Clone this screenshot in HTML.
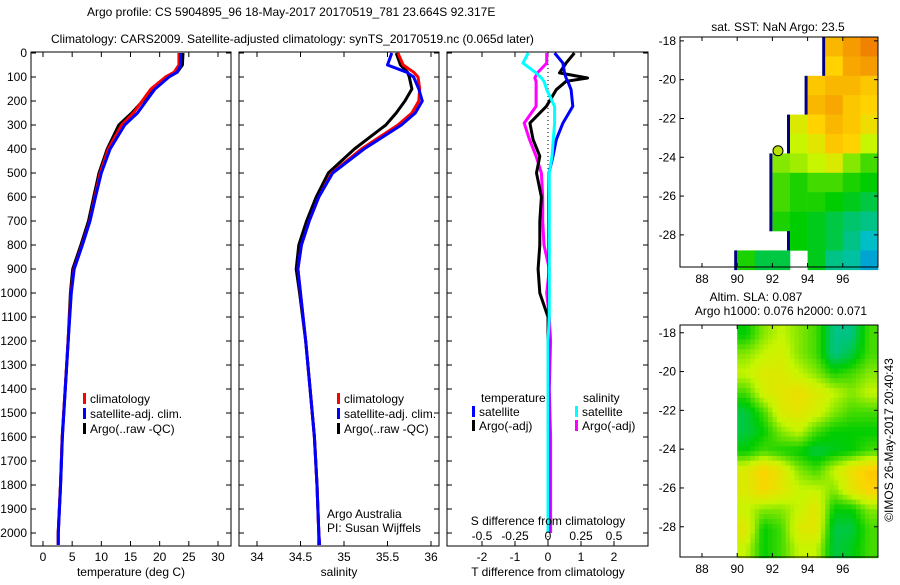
<!DOCTYPE html>
<html><head><meta charset="utf-8"><style>
body{margin:0;background:#fff;}
svg text{font-family:"Liberation Sans",sans-serif;font-size:12px;fill:#000;}
</style></head><body>
<svg id="c" width="900" height="580" viewBox="0 0 900 580" xmlns="http://www.w3.org/2000/svg">
<rect width="900" height="580" fill="#fff"/>
<text x="87" y="16" font-size="13">Argo profile: CS 5904895_96 18-May-2017 20170519_781 23.664S 92.317E</text>
<text x="51" y="43" font-size="13">Climatology: CARS2009. Satellite-adjusted climatology: synTS_20170519.nc (0.065d later)</text>
<g id="g"></g>
</svg>
<script>
// ---- data ----
const depths = [0,50,80,100,150,200,250,300,400,500,600,700,800,900,1000,1200,1400,1600,1800,2000,2050];
const tempClim = [23.3,23.3,22.5,21,18.5,17,15.5,13.5,11.2,9.8,8.9,8,6.7,5.3,4.8,4.3,3.8,3.3,3.0,2.6,2.6];
const tempSat  = [23.6,23.6,23.0,21.6,19.2,17.7,16.2,14.0,11.5,10.0,9.0,8.05,6.75,5.35,4.85,4.32,3.82,3.32,3.02,2.62,2.62];
const tempArgo = [24.0,23.9,23.0,21.3,18.7,17.1,15.2,13.0,11.0,9.6,8.7,7.8,6.5,5.1,4.7,4.3,3.8,3.3,3.0,2.6,2.6];
const salClim = [35.62,35.68,35.8,35.85,35.87,35.86,35.78,35.62,35.2,34.86,34.71,34.6,34.51,34.47,34.5,34.56,34.61,34.66,34.69,34.71,34.72];
const salSat  = [35.55,35.5,35.72,35.8,35.86,35.9,35.82,35.66,35.23,34.87,34.71,34.6,34.51,34.47,34.5,34.56,34.61,34.66,34.69,34.71,34.72];
const salArgo = [35.6,35.65,35.73,35.75,35.78,35.7,35.6,35.48,35.12,34.82,34.68,34.57,34.48,34.45,34.49,34.56,34.61,34.66,34.69,34.71,34.71];
const diffDepths = [0,42,83,104,118,153,222,292,361,430,500,600,700,800,900,1000,1100,1200,1400,1600,1800,2000];
const dTsat  = [0.2,0.45,0.5,0.55,0.6,0.7,0.75,0.45,0.25,0.15,0.03,0.02,0.02,0.02,0.02,0.02,0.02,0.02,0.02,0.02,0.02,0.02];
const dTargo = [0.8,0.55,0.35,1.2,0.55,0.25,-0.05,-0.55,-0.45,-0.25,-0.35,-0.2,-0.25,-0.25,-0.3,-0.25,0,0,0,0,0,0];
const dSsat  = [-0.15,-0.19,-0.09,-0.05,-0.03,-0.01,0.05,0.05,0.04,0.03,0.01,0.01,0.01,0.01,0.01,0.01,0.01,0,0,0,0,0];
const dSargo = [-0.01,-0.01,-0.08,-0.1,-0.09,-0.09,-0.09,-0.18,-0.14,-0.09,-0.05,-0.04,-0.04,-0.03,0.01,-0.01,0.01,0.02,0.01,0.02,0.02,0.02];
const tTicks = [0,5,10,15,20,25,30];
const sTicks = [34,34.5,35,35.5,36];
const dTTicks = [-2,-1,0,1,2];
const dSTicks = [-0.5,-0.25,0,0.25,0.5];
const depthTicks = [0,100,200,300,400,500,600,700,800,900,1000,1100,1200,1300,1400,1500,1600,1700,1800,1900,2000];
const lonTicks = [88,90,92,94,96];
const latTicks = [-18,-20,-22,-24,-26,-28];
const N = null;
const sstGrid = [
[N,N,N,N,N,N,N,N,0.75,0.8,0.85],
[N,N,N,N,N,N,N,N,0.7,0.78,0.8],
[N,N,N,N,N,N,N,0.72,0.75,0.75,0.72],
[N,N,N,N,N,N,N,0.75,0.78,0.72,0.7],
[N,N,N,N,N,N,0.6,0.7,0.75,0.72,0.65],
[N,N,N,N,N,N,0.55,0.62,0.72,0.7,0.55],
[N,N,N,N,N,0.5,0.52,0.55,0.6,0.5,0.45],
[N,N,N,N,N,0.45,0.42,0.45,0.45,0.42,0.4],
[N,N,N,N,N,0.45,0.42,0.42,0.4,0.38,0.35],
[N,N,N,N,N,0.42,0.4,0.38,0.35,0.32,0.3],
[N,N,N,N,N,N,0.4,0.38,0.35,0.3,0.25],
[N,N,N,0.42,0.35,0.35,N,0.38,0.3,0.28,0.2]];
const slaGrid = [
[.4,.5,.55,.5,.45,.3,.3,.45],
[.5,.55,.58,.5,.45,.3,.35,.45],
[.55,.6,.6,.55,.5,.42,.45,.5],
[.45,.58,.62,.65,.6,.55,.5,.55],
[.35,.45,.6,.62,.58,.5,.45,.45],
[.35,.4,.5,.55,.45,.4,.4,.4],
[.4,.45,.42,.4,.35,.38,.4,.45],
[.6,.7,.62,.5,.45,.55,.65,.72],
[.6,.68,.62,.55,.55,.5,.62,.7],
[.55,.5,.5,.55,.62,.4,.4,.5],
[.62,.4,.45,.6,.62,.35,.35,.45],
[.55,.4,.45,.55,.55,.35,.38,.45]];
const argoPos = [92.317,-23.664];

// ---- drawing ----
const g = document.getElementById('g');
const NS='http://www.w3.org/2000/svg';
function el(t,a,p){const e=document.createElementNS(NS,t);for(const k in a)e.setAttribute(k,a[k]);(p||g).appendChild(e);return e;}
function txt(x,y,s,anchor,p){const e=el('text',{x:x,y:y,'text-anchor':anchor||'start'},p);e.textContent=s;return e;}
const yD = d => 53 + d*0.24;
const PT=52, PB=546;
function panel(x0,x1,name){
  const r=el('rect',{x:x0,y:PT,width:x1-x0,height:PB-PT,fill:'none',stroke:'#000','stroke-width':1});
  
  
  depthTicks.forEach(d=>{el('line',{x1:x0,x2:x0+5,y1:yD(d),y2:yD(d),stroke:'#000'});el('line',{x1:x1,x2:x1-5,y1:yD(d),y2:yD(d),stroke:'#000'});});
}
function poly(xs,ys,col,w,name){
  const pts=xs.map((x,i)=>x.toFixed(1)+','+ys[i].toFixed(1)).join(' ');
  const p=el('polyline',{points:pts,fill:'none',stroke:col,'stroke-width':w,'stroke-linejoin':'round'});
  
  
}
// panel 1 temperature
const xT = t => 43 + t*5.833;
panel(31,231,'temperature-panel');
depthTicks.forEach(d=>{const t=txt(27,yD(d)+4,String(d),'end');});
tTicks.forEach(v=>{el('line',{x1:xT(v),x2:xT(v),y1:PB,y2:PB-5,stroke:'#000'});el('line',{x1:xT(v),x2:xT(v),y1:PT,y2:PT+5,stroke:'#000'});txt(xT(v),561,String(v),'middle');});
poly(tempArgo.map(xT),depths.map(yD),'#000',3,'argo-temperature-line');
poly(tempClim.map(xT),depths.map(yD),'#f00',3,'climatology-temperature-line');
poly(tempSat.map(xT),depths.map(yD),'#00f',3,'satellite-temperature-line');
txt(131,576,'temperature (deg C)','middle');
// panel 2 salinity
const xS = s => 257 + (s-34)*87;
panel(239,439,'salinity-panel');
sTicks.forEach(v=>{el('line',{x1:xS(v),x2:xS(v),y1:PB,y2:PB-5,stroke:'#000'});el('line',{x1:xS(v),x2:xS(v),y1:PT,y2:PT+5,stroke:'#000'});txt(xS(v),561,String(v),'middle');});
poly(salArgo.map(xS),depths.map(yD),'#000',3,'argo-salinity-line');
poly(salClim.map(xS),depths.map(yD),'#f00',3,'climatology-salinity-line');
poly(salSat.map(xS),depths.map(yD),'#00f',3,'satellite-salinity-line');
txt(339,576,'salinity','middle');
txt(327,518,'Argo Australia');txt(327,532,'PI: Susan Wijffels');
// legends
function leg(x,y,col,s,name){const r=el('rect',{x:x,y:y-10,width:3,height:11,fill:col});txt(x+7,y,s);}
leg(83,403,'#f00','climatology','legend-climatology');leg(83,418,'#00f','satellite-adj. clim.','legend-satellite');leg(83,433,'#000','Argo(..raw -QC)','legend-argo');
leg(337,403,'#f00','climatology','legend-climatology-2');leg(337,418,'#00f','satellite-adj. clim.','legend-satellite-2');leg(337,433,'#000','Argo(..raw -QC)','legend-argo-2');
// panel 3 differences
const xdT = v => 548 + v*33;
const xdS = v => 548 + v*132;
panel(447,648,'difference-panel');
dTTicks.forEach(v=>{el('line',{x1:xdT(v),x2:xdT(v),y1:PB,y2:PB-5,stroke:'#000'});el('line',{x1:xdT(v),x2:xdT(v),y1:PT,y2:PT+5,stroke:'#000'});txt(xdT(v),561,String(v),'middle');});
el('line',{x1:548,x2:548,y1:PT,y2:PB,stroke:'#000','stroke-dasharray':'1,3'});
poly(dSargo.map(xdS),diffDepths.map(yD),'#f0f',3,'argo-salinity-diff-line');
poly(dTargo.map(xdT),diffDepths.map(yD),'#000',3,'argo-temperature-diff-line');
poly(dTsat.map(xdT),diffDepths.map(yD),'#00f',3,'satellite-temperature-diff-line');
poly(dSsat.map(xdS),diffDepths.map(yD),'#0ff',3,'satellite-salinity-diff-line');
txt(548,525,'S difference from climatology','middle');
dSTicks.forEach(v=>txt(xdS(v),540,String(v),'middle'));
txt(548,576,'T difference from climatology','middle');
txt(481,402,'temperature');txt(583,402,'salinity');
leg(472,416,'#00f','satellite','legend-temp-satellite');leg(472,430,'#000','Argo(-adj)','legend-temp-argo');
leg(575,416,'#0ff','satellite','legend-sal-satellite');leg(575,430,'#f0f','Argo(-adj)','legend-sal-argo');
// colormap
function cmap(v){const st=[[0,[0,60,255]],[0.25,[0,190,200]],[0.4,[0,205,0]],[0.55,[200,245,0]],[0.7,[255,210,0]],[0.85,[240,130,0]],[1,[200,60,0]]];
 v=Math.max(0,Math.min(1,v));
 for(let i=1;i<st.length;i++){if(v<=st[i][0]){const a=st[i-1],b=st[i],f=(v-a[0])/(b[0]-a[0]);return 'rgb('+a[1].map((c,k)=>Math.round(c+(b[1][k]-c)*f)).join(',')+')';}}return 'rgb(200,60,0)';}
function frame(y0,y1,latTop,name){
  const xL=lon=>680+(lon-86.75)*17.6, yL=lat=>y0+(latTop-lat)*19.4;
  const f=el('rect',{x:680,y:y0,width:198,height:y1-y0,fill:'none',stroke:'#000'});
  lonTicks.forEach(l=>{el('line',{x1:xL(l),x2:xL(l),y1:y1,y2:y1-4,stroke:'#000'});el('line',{x1:xL(l),x2:xL(l),y1:y0,y2:y0+4,stroke:'#000'});txt(xL(l),y1+16,String(l),'middle');});
  latTicks.forEach(l=>{el('line',{x1:680,x2:684,y1:yL(l),y2:yL(l),stroke:'#000'});el('line',{x1:878,x2:874,y1:yL(l),y2:yL(l),stroke:'#000'});txt(676,yL(l)+4,String(l),'end');});
  return [xL,yL];
}
// map 1: SST blocks
const m1y0=37, m1lat=-17.8;
const xl1=lon=>680+(lon-86.75)*17.6, yl1=lat=>m1y0+(m1lat-lat)*19.4;
sstGrid.forEach((row,i)=>{let first=true;row.forEach((v,j)=>{if(v===null)return;const x=xl1(87+j),y=yl1(m1lat-i);
  const c=el('rect',{x:x,y:y,width:17.9,height:19.7,fill:cmap(v)});
  if(first){el('rect',{x:x-3,y:y,width:3,height:19.7,fill:'#000080'});}first=false;});});
frame(37,267,-17.8,'sst-map');
const dot=el('circle',{cx:xl1(argoPos[0]),cy:yl1(argoPos[1]),r:5,fill:'#b8e000',stroke:'#000'});


txt(778,31,'sat. SST: NaN Argo: 23.5','middle');
// map 2: SLA smoothed (bilinear between cell centres)
const m2y0=325, m2lat=-17.6, sub=4;
const xl2=lon=>680+(lon-86.75)*17.6, yl2=lat=>m2y0+(m2lat-lat)*19.4;
const R=slaGrid.length, C=slaGrid[0].length;
function samp(r,c){r=Math.max(0,Math.min(R-1,r));c=Math.max(0,Math.min(C-1,c));const r0=Math.floor(r),c0=Math.floor(c),r1=Math.min(R-1,r0+1),c1=Math.min(C-1,c0+1),fr=r-r0,fc=c-c0;
 return slaGrid[r0][c0]*(1-fr)*(1-fc)+slaGrid[r0][c1]*(1-fr)*fc+slaGrid[r1][c0]*fr*(1-fc)+slaGrid[r1][c1]*fr*fc;}
for(let i=0;i<R*sub;i++){for(let j=0;j<C*sub;j++){
  const v=samp((i+0.5)/sub-0.5,(j+0.5)/sub-0.5);
  const x=xl2(90+j/sub), y=yl2(m2lat-i/sub);
  const c=el('rect',{x:x,y:y,width:17.6/sub+0.4,height:19.4/sub+0.4,fill:cmap(v)});
  
  
}}
frame(325,557,-17.6,'sla-map');
txt(756,301,'Altim. SLA: 0.087','middle');
txt(781,315,'Argo h1000: 0.076 h2000: 0.071','middle');
const cr=txt(0,0,'©IMOS 26-May-2017 20:40:43','middle');
cr.setAttribute('transform','translate(893,440) rotate(-90)');

</script>
</body></html>
